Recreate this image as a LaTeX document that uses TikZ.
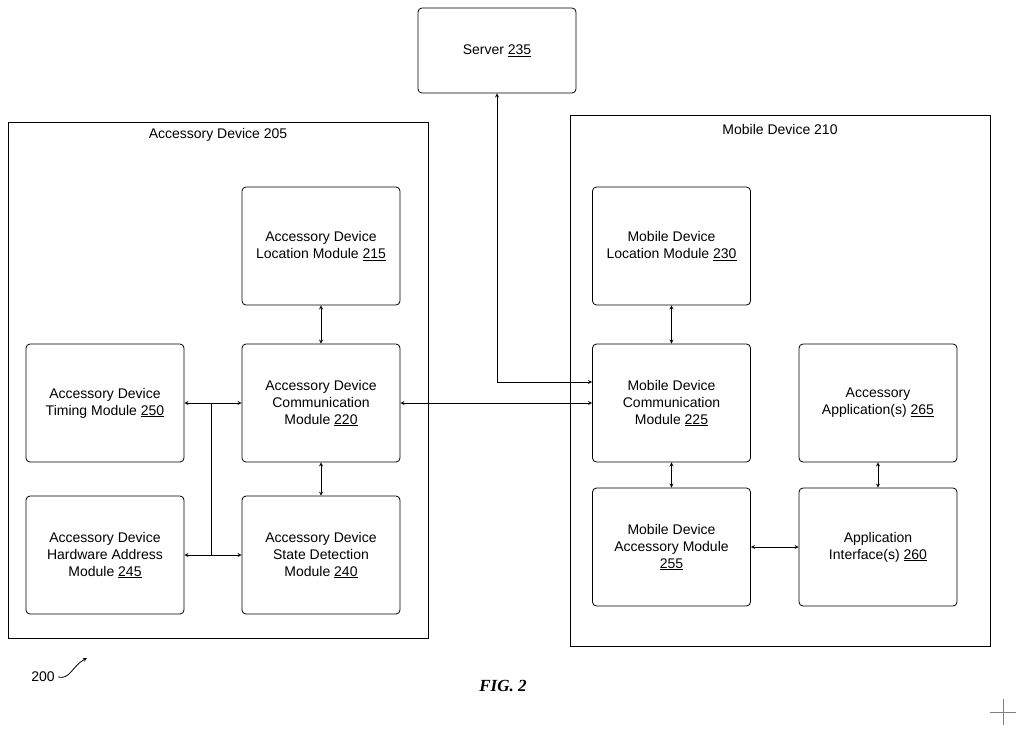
\documentclass[tikz,border=0pt]{standalone}
\usepackage{fontspec}
\setmainfont{Liberation Sans}
\newfontfamily\figfont{Liberation Serif}
\usetikzlibrary{positioning}

\begin{document}
\begin{tikzpicture}[
    x=1pt, y=-1pt,
    every node/.style={font=\fontsize{14}{17}\selectfont, align=center},
    module/.style={draw, thick, rounded corners=4pt, minimum width=158pt, minimum height=118pt, inner sep=2pt},
    outer/.style={draw, thick},
    link/.style={thick, <->, >=stealth}
]
   \useasboundingbox (0,0) rectangle (1024,733);

   % outer frames
   \draw[outer] (8,122) rectangle (428,638);
   \draw[outer] (570,115) rectangle (990,646);
   \node (adtitle) at (218,135) {Accessory Device 205};
   \node (mdtitle) at (780,129) {Mobile Device 210};

   % server
   \node[module, minimum height=85pt] (srv) at (497,50.5) {Server \underline{235}};

   % accessory device modules
   \node[module] (adloc) at (321,246) {Accessory Device\\Location Module \underline{215}};
   \node[module] (adcom) at (321,403) {Accessory Device\\Communication\\Module \underline{220}};
   \node[module] (adtim) at (105,403) {Accessory Device\\Timing Module \underline{250}};
   \node[module] (adhw)  at (105,555) {Accessory Device\\Hardware Address\\Module \underline{245}};
   \node[module] (adst)  at (321,555) {Accessory Device\\State Detection\\Module \underline{240}};

   % mobile device modules
   \node[module] (mdloc) at (671.5,246) {Mobile Device\\Location Module \underline{230}};
   \node[module] (mdcom) at (671.5,403) {Mobile Device\\Communication\\Module \underline{225}};
   \node[module] (mdacc) at (671.5,547) {Mobile Device\\Accessory Module\\\underline{255}};
   \node[module] (accapp) at (878,403) {Accessory\\Application(s) \underline{265}};
   \node[module] (appif)  at (878,547) {Application\\Interface(s) \underline{260}};

   % connectors
   \draw[link] (adloc) -- (adcom);
   \draw[link] (adcom) -- (adst);
   \draw[link] (adtim) -- (adcom);
   \draw[link] (adhw) -- (adst);
   \coordinate (bustop) at (211,403);
   \coordinate (busbot) at (211,555);
   \draw[thick] (bustop) -- (busbot);
   \draw[link] (adcom) -- (mdcom);
   \coordinate (srvbend) at (497,382);
   \draw[link] (srv.south) -- (srvbend) -- (mdcom.west |- srvbend);
   \draw[link] (mdloc) -- (mdcom);
   \draw[link] (mdcom) -- (mdacc);
   \draw[link] (accapp) -- (appif);
   \draw[link] (mdacc) -- (appif);

   % figure labels
   \node (ref) at (43,677) {200};
   \coordinate (reftip) at (87,658);
   \draw[thick, ->, >=stealth] (ref.east) .. controls (70,680) and (72,666) .. (reftip);
   \node[font=\figfont\fontsize{17}{20}\selectfont\bfseries\itshape] (fig) at (503,686) {FIG. 2};
   \draw[gray, thin] (990,712) -- (1016,712) (1003,699) -- (1003,725);
\end{tikzpicture}
\end{document}
